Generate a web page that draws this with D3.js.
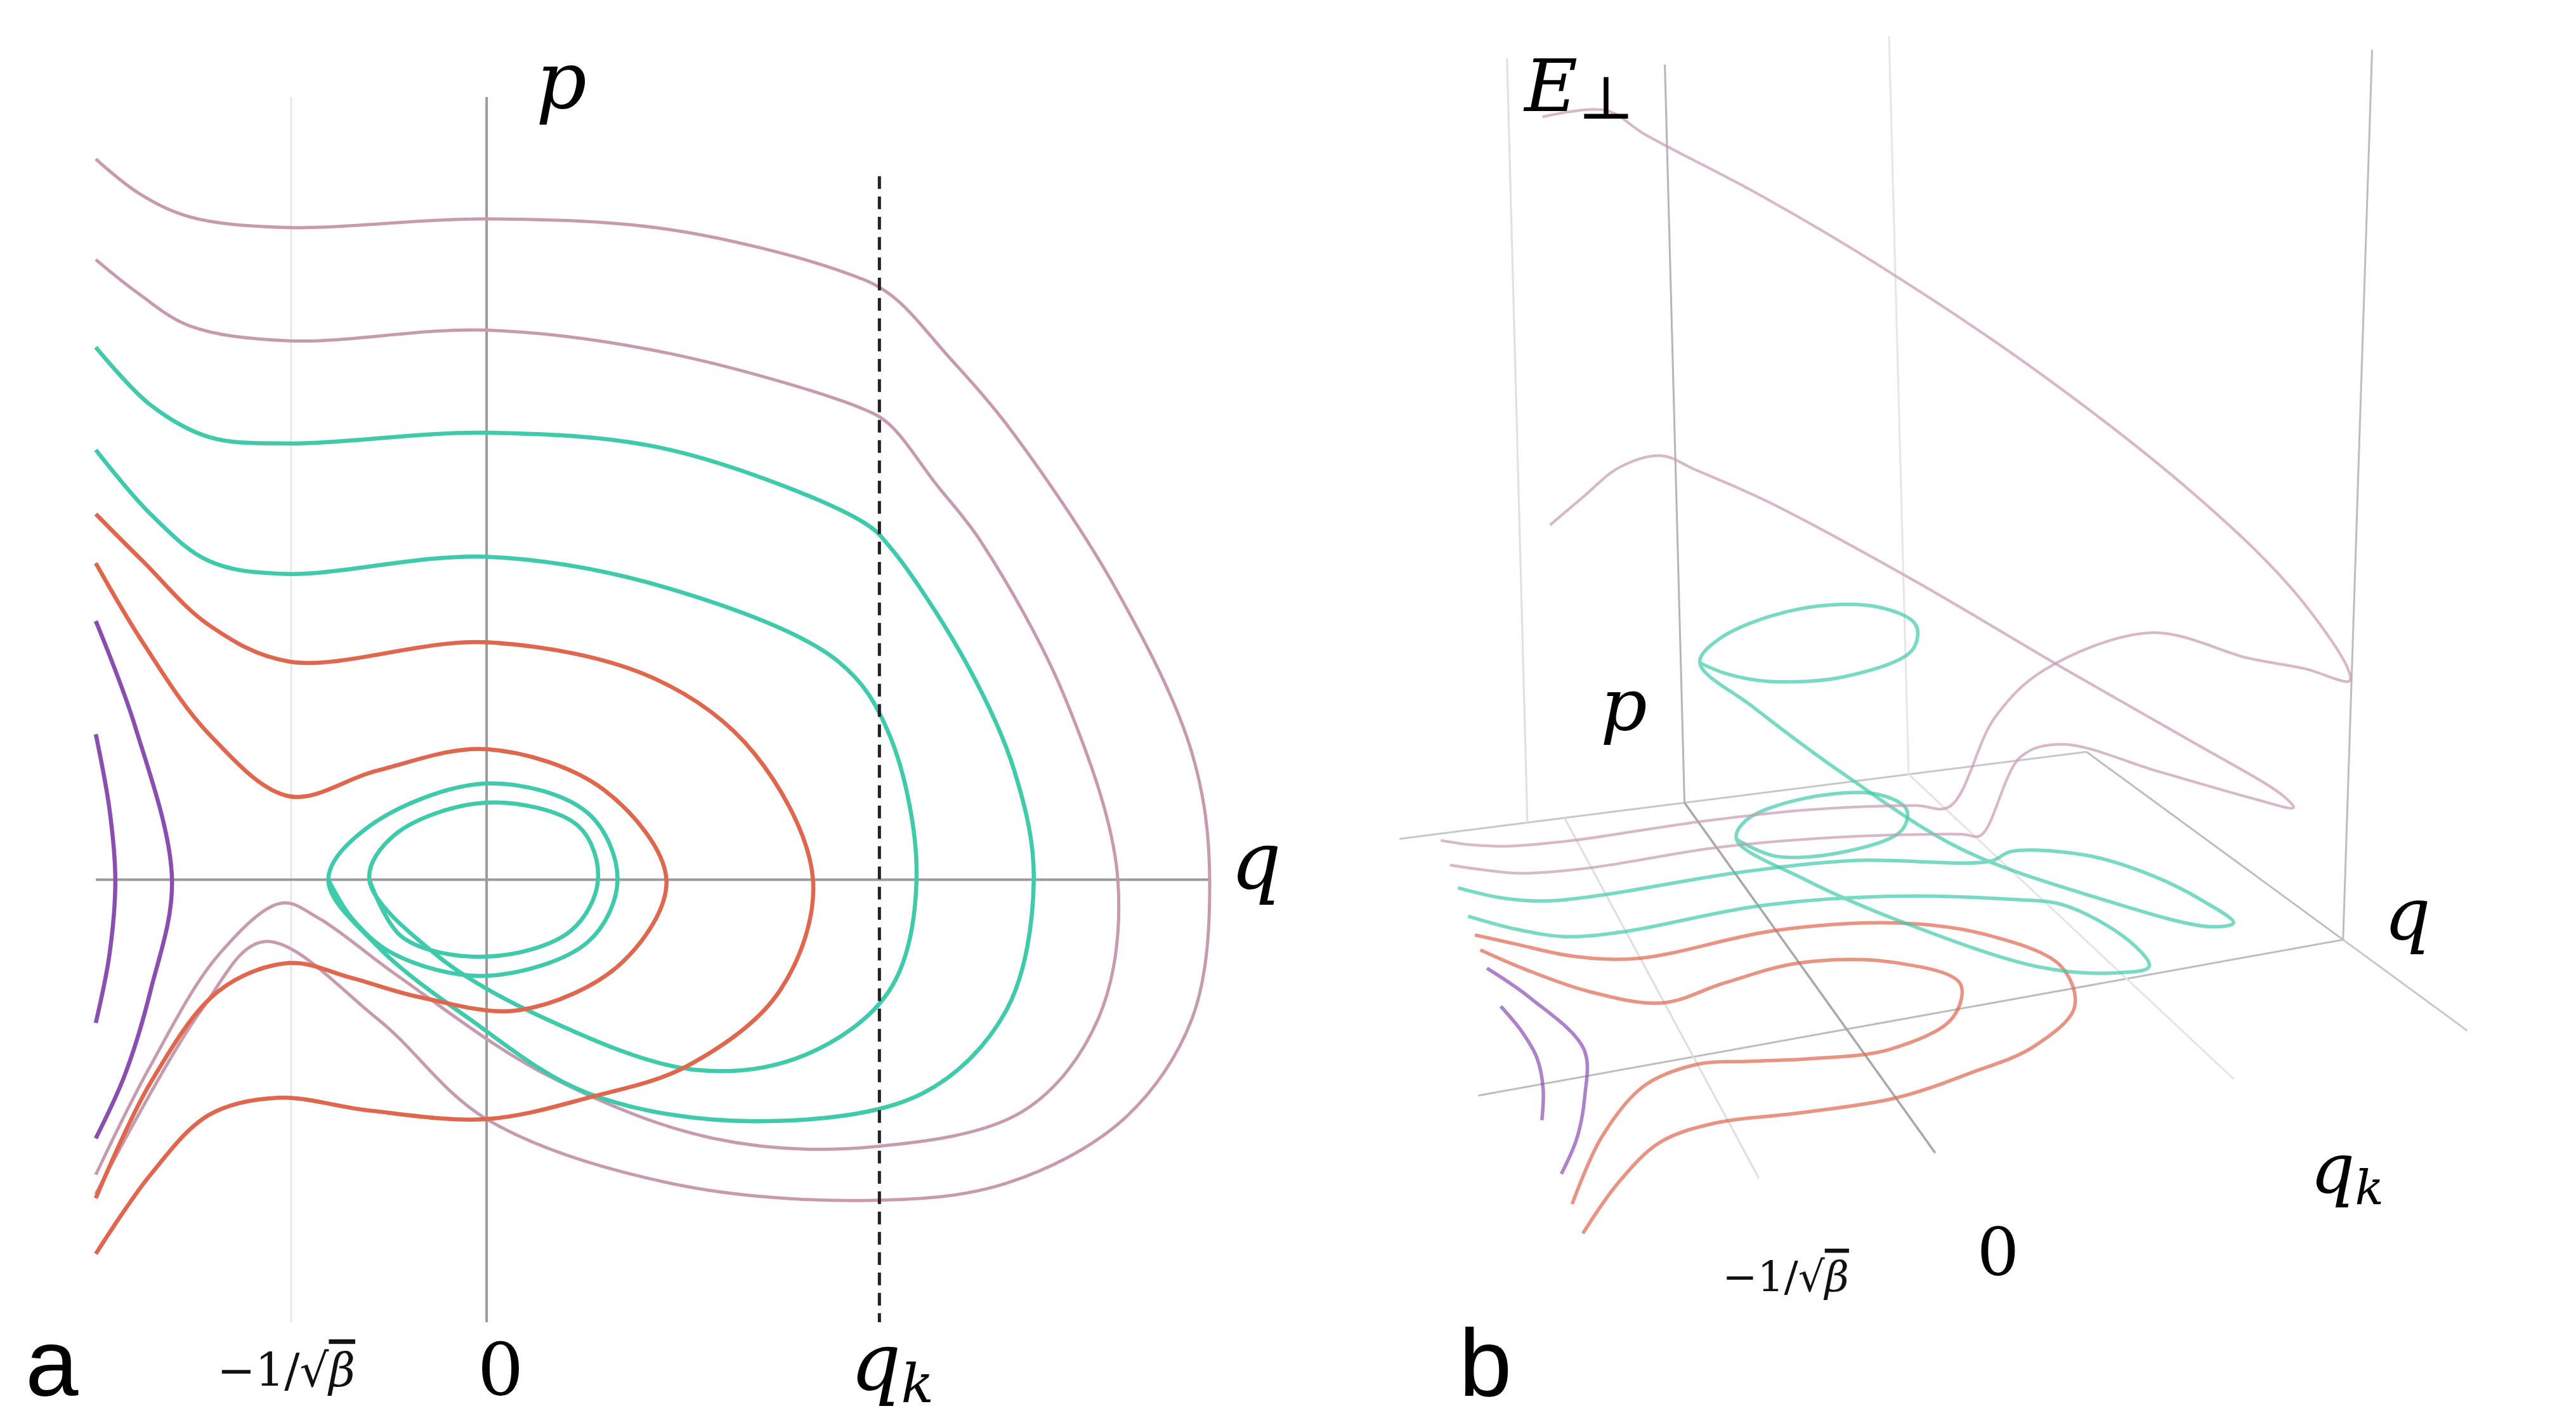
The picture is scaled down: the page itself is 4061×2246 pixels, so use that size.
<!DOCTYPE html>
<html><head><meta charset="utf-8">
<script src="https://cdn.jsdelivr.net/npm/d3@7"></script>
<style>body{margin:0;background:#fff}</style></head>
<body><svg id="c" width="4061" height="2246"></svg>
<script>
// ---- data: [q, p, E] ----
const pink1=[[-2.00,3.37,0],[-1.78,3.21,0],[-1.52,3.10,0],[-1.03,3.05,0],[0,3.09,0],[0.94,3.04,0],[1.80,2.85,0],[2.06,2.74,0],[2.36,2.45,1.1],[2.66,2.13,1.75],[3.22,1.36,2.5],[3.61,0.59,2.6],[3.70,0,2.85],[3.61,-0.65,3.2],[3.26,-1.12,3.8],[2.66,-1.42,5.1],[1.97,-1.50,6.4],[0.94,-1.42,8.1],[0,-1.12,9.4],[-0.56,-0.65,9.9],[-1.14,-0.29,10.4],[-1.46,-0.61,11.1],[-2.00,-1.47,12.2]];
const pink2=[[-2.00,2.90,0],[-1.78,2.74,0],[-1.52,2.59,0],[-1.01,2.52,0],[0,2.57,0],[0.94,2.46,0],[1.93,2.20,0],[2.06,2.13,0],[2.30,1.85,1.0],[2.53,1.58,1.25],[2.96,0.85,1.3],[3.23,0,1.5],[3.13,-0.65,1.9],[2.75,-1.08,2.5],[1.97,-1.25,3.5],[1.16,-1.21,4.5],[0.30,-0.91,5.5],[-0.47,-0.44,6.2],[-0.86,-0.18,6.45],[-1.05,-0.11,6.6],[-1.37,-0.35,6.8],[-1.72,-0.87,7.1],[-2.00,-1.38,7.5]];
const teal1=[[-2.00,2.49,0],[-1.72,2.22,0],[-1.42,2.07,0],[-1.01,2.04,0],[0,2.09,0],[0.94,2.01,0],[1.93,1.67,0],[2.06,1.56,0.15],[2.45,1.02,0.35],[2.70,0.51,0.4],[2.80,0,0.45],[2.66,-0.61,0.7],[2.23,-1.00,1.1],[1.37,-1.13,1.8],[0.52,-1.00,2.5],[-0.09,-0.65,3.2],[-0.56,-0.31,3.8],[-0.81,0,4.1],[-0.60,0.25,4.1],[0,0.45,4.1],[0.52,0.31,4.1],[0.67,0,4.1],[0.52,-0.29,4.1],[0,-0.45,4.1],[-0.47,-0.35,4.1],[-0.69,-0.18,4.1],[-0.81,0,4.1]];
const teal2=[[-2.00,2.01,0],[-1.72,1.71,0],[-1.42,1.49,0],[-1.03,1.43,0],[0,1.51,0],[0.94,1.36,0],[1.80,1.02,0],[2.06,0.68,0.1],[2.20,0,0.15],[2.06,-0.52,0.3],[1.63,-0.82,0.6],[1.07,-0.89,0.9],[0.30,-0.65,1.4],[-0.26,-0.35,1.8],[-0.60,0,2.05],[-0.47,0.21,2.05],[0,0.36,2.05],[0.47,0.25,2.05],[0.57,0,2.05],[0.43,-0.24,2.05],[0,-0.36,2.05],[-0.43,-0.27,2.05],[-0.60,0,2.05]];
const orange1=[[-2.00,1.71,0],[-1.76,1.49,0],[-1.42,1.19,0],[-1.01,1.02,0],[0,1.11,0],[0.86,0.94,0],[1.37,0.59,0],[1.67,0,0],[1.50,-0.52,0],[1.03,-0.87,0],[0.52,-1.02,0],[0,-1.12,0],[-0.60,-1.08,0],[-1.07,-1.02,0],[-1.42,-1.10,0],[-1.72,-1.38,0],[-2.00,-1.75,0]];
const orange2=[[-2.00,1.48,0],[-1.76,1.11,0],[-1.42,0.68,0],[-1.01,0.39,0],[-0.56,0.51,0],[0,0.61,0],[0.60,0.42,0],[0.92,0,0],[0.69,-0.39,0],[0.17,-0.61,0],[-0.34,-0.55,0],[-0.69,-0.46,0],[-1.01,-0.39,0],[-1.37,-0.52,0],[-1.72,-0.95,0],[-2.00,-1.49,0]];
const purple1=[[-2.00,0.68,0],[-1.93,0.33,0],[-1.90,0,0],[-1.93,-0.35,0],[-2.00,-0.67,0]];
const purple2=[[-2.00,1.21,0],[-1.80,0.72,0],[-1.61,0,0],[-1.72,-0.52,0],[-1.85,-0.91,0],[-2.00,-1.21,0]];
const qTicks=[{v:-1,label:"−1/√"},{v:0,label:"0"}];
const qK=2.01;

const curves=[
 {d:pink1,c:"#c79aae",w:5},{d:pink2,c:"#c79aae",w:5},
 {d:teal1,c:"#3fcbab",w:6.5},{d:teal2,c:"#3fcbab",w:6.5},
 {d:orange1,c:"#e0664d",w:6.5},{d:orange2,c:"#e0664d",w:6.5},
 {d:purple1,c:"#8a4db0",w:6.5},{d:purple2,c:"#8a4db0",w:6.5}];

const svg=d3.select("#c");
const serif="'DejaVu Serif','Liberation Serif',serif";
const sans="'Liberation Sans',Arial,sans-serif";
function it(g,t,xx,yy,fs,anchor){return g.append("text").attr("x",xx).attr("y",yy).attr("font-family",serif).attr("font-style","italic").attr("font-size",fs).attr("text-anchor",anchor||"middle").text(t);}
function beta(g,xx,yy,fs){const t=g.append("text").attr("x",xx).attr("y",yy).attr("text-anchor","middle").attr("font-family",serif).attr("font-size",fs).attr("fill","#111");
  t.append("tspan").text(qTicks[0].label);t.append("tspan").attr("font-style","italic").style("text-decoration","overline").text("β");}

// ---------- panel a ----------
const x=d3.scaleLinear().domain([-2,3.7]).range([151,1907]);
const y=d3.scaleLinear().domain([-2.07,3.66]).range([2084,153]);
const A=svg.append("g");
A.append("line").attr("x1",x(-1)).attr("x2",x(-1)).attr("y1",y(3.66)).attr("y2",y(-2.07)).attr("stroke","#e8e8e8").attr("stroke-width",3);
A.append("line").attr("x1",x(0)).attr("x2",x(0)).attr("y1",y(3.66)).attr("y2",y(-2.07)).attr("stroke","#9a9a9a").attr("stroke-width",4);
A.append("line").attr("x1",x(-2)).attr("x2",x(3.7)).attr("y1",y(0)).attr("y2",y(0)).attr("stroke","#9a9a9a").attr("stroke-width",4);
const line2=d3.line().x(d=>x(d[0])).y(d=>y(d[1])).curve(d3.curveCatmullRom.alpha(0.5));
curves.forEach(c=>A.append("path").attr("d",line2(c.d)).attr("fill","none").attr("stroke",c.c).attr("stroke-width",c.w).attr("stroke-linejoin","round"));
A.append("line").attr("x1",x(qK)).attr("x2",x(qK)).attr("y1",y(3.29)).attr("y2",y(-2.07)).attr("stroke","#222").attr("stroke-width",5).attr("stroke-dasharray","20,12");
it(A,"p",885,170,125);
it(A,"q",1980,1400,125);
A.append("text").attr("x",40).attr("y",2200).attr("font-family",sans).attr("font-size",150).text("a");
beta(A,x(-1)-8,2185,72);
A.append("text").attr("x",x(0)+22).attr("y",2198).attr("text-anchor","middle").attr("font-family",serif).attr("font-size",115).text(qTicks[1].label);
const qk=it(A,"q",x(qK)+20,2190,125); qk.append("tspan").attr("font-size",85).attr("dy",20).text("k");

// ---------- panel b (3D) ----------
const B=svg.append("g");
const SX=1.245,SY=1.445;
const Q0=-2.3,Q1=3.75,P0=-0.3,P1=3.5;
const X=[145,1240,915,45],Y=[1195,1025,820,915];
const dx1=X[1]-X[2],dx2=X[3]-X[2],dx3=X[0]-X[1]+X[2]-X[3];
const dy1=Y[1]-Y[2],dy2=Y[3]-Y[2],dy3=Y[0]-Y[1]+Y[2]-Y[3];
const den=dx1*dy2-dx2*dy1;
const G=(dx3*dy2-dx2*dy3)/den,H=(dx1*dy3-dx3*dy1)/den;
const a=X[1]-X[0]+G*X[1],b=X[3]-X[0]+H*X[3],cc=X[0];
const dd=Y[1]-Y[0]+G*Y[1],e=Y[3]-Y[0]+H*Y[3],f=Y[0];
function proj(q,p,E){const u=(q-Q0)/(Q1-Q0),v=(p-P0)/(P1-P0);const w=G*u+H*v+1;
  return [2150+SX*((a*u+b*v+cc)/w-3*(E||0)),SY*((dd*u+e*v+f)/w-97*(E||0))];}
const l3=d3.line().x(d=>proj(...d)[0]).y(d=>proj(...d)[1]).curve(d3.curveCatmullRom.alpha(0.5));
function seg(p0,p1,col,w){B.append("path").attr("d",l3([p0,p1])).attr("stroke",col).attr("stroke-width",w).attr("fill","none");}
seg([Q0,P1,0],[Q1,P1,0],"#c8c8c8",3);
seg([Q1,P1,0],[Q1,P0,0],"#bdbdbd",3);
seg([Q0,P0,0],[Q1,P0,0],"#bdbdbd",3);
seg([Q1,P0,0],[Q1,-1.6,0],"#c8c8c8",3);
seg([0,P1,0],[0,-1.7,0],"#a8a8a8",3.5);
seg([-1,P1,0],[-1,-1.6,0],"#dedede",3);
seg([qK,P1,0],[qK,-1.6,0],"#e4e4e4",3);
seg([-1.3,P1,0],[-1.3,P1,8.6],"#e0e0e0",3);
seg([0,P1,0],[0,P1,8.3],"#b5b5b5",3);
seg([qK,P1,0],[qK,P1,8.3],"#e6e6e6",3);
seg([Q1,P0,0],[Q1+0.45,P0,9.9],"#bdbdbd",3);
curves.slice().reverse().forEach(c=>B.append("path").attr("d",l3(c.d)).attr("fill","none").attr("stroke",c.c).attr("stroke-opacity",0.7).attr("stroke-width",c.w*0.85).attr("stroke-linejoin","round"));
const E=it(B,"E",2490,175,115); E.append("tspan").attr("font-style","normal").attr("font-size",95).attr("dy",12).text("⊥");
it(B,"p",2560,1150,115);
it(B,"q",3795,1480,115);
const qk2=it(B,"q",3700,1880,110); qk2.append("tspan").attr("font-size",75).attr("dy",18).text("k");
B.append("text").attr("x",3150).attr("y",2010).attr("text-anchor","middle").attr("font-family",serif).attr("font-size",105).text(qTicks[1].label);
beta(B,2815,2035,66);
B.append("text").attr("x",2300).attr("y",2200).attr("font-family",sans).attr("font-size",150).text("b");
</script></body></html>
